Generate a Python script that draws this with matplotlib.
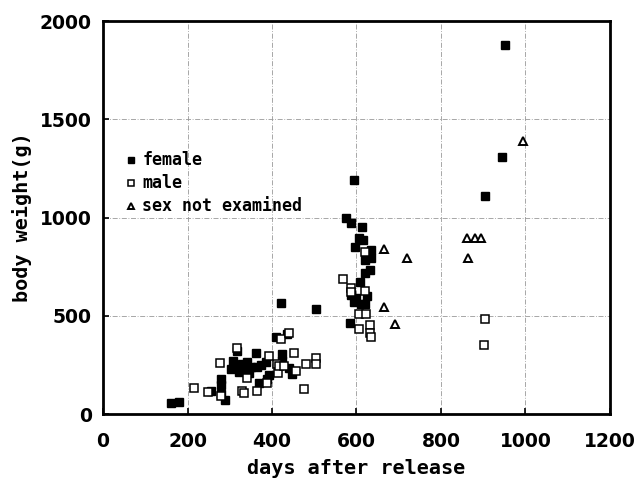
import matplotlib
matplotlib.use("Agg")
import matplotlib.pyplot as plt

# ── Data (days after release, body weight in g) ─────────────────────────────
female_days = [162, 181, 256, 280, 280, 280, 289,
               303, 308, 315, 318, 322, 328, 335, 340, 345, 350, 362, 365,
               369, 375, 385, 388, 393, 410, 421, 424, 424, 436, 440, 447,
               503,
               574, 584, 588, 588, 593, 593, 597, 600, 605, 609, 610, 612,
               616, 621, 621, 621, 625, 633, 635, 635,
               903, 944, 951]
female_wt = [58, 62, 118, 100, 150, 180, 72,
             230, 270, 240, 320, 215, 255, 225, 265, 210, 240, 312, 240,
             158, 250, 265, 179, 200, 390, 565, 307, 271, 405, 235, 205,
             532,
             997, 465, 972, 604, 1190, 568, 849, 590, 895, 670, 560, 951,
             885, 783, 716, 558, 600, 731, 834, 793,
             1110, 1310, 1880]

male_days = [216, 249, 278, 280, 318, 329, 334, 341, 365, 388, 393,
             412, 414, 416, 421, 428, 440, 452, 456, 475, 480, 503, 503,
             569, 588, 588, 605, 605, 621, 621, 623, 633, 633, 635,
             901, 903]
male_wt = [133, 113, 261, 92, 338, 118, 107, 184, 118, 158, 297,
           256, 210, 245, 384, 246, 410, 312, 220, 125, 256, 287, 256,
           685, 639, 619, 511, 435, 624, 824, 511, 455, 414, 394,
           353, 486]

unknown_days = [666, 666, 692, 720, 861, 863, 880, 894, 995]
unknown_wt = [839, 547, 460, 793, 895, 793, 895, 895, 1390]

x_ticks = [0, 200, 400, 600, 800, 1000, 1200]
y_ticks = [0, 500, 1000, 1500, 2000]

label_font = "DejaVu Sans Mono"
tick_font = "DejaVu Sans"

fig = plt.figure(figsize=(6.41, 4.84), dpi=100)
ax = fig.add_axes([0.1607, 0.1446, 0.7909, 0.812])

ax.plot(female_days, female_wt, "s", color="black", markersize=5.5,
        linestyle="none", label="female")
ax.plot(male_days, male_wt, "s", markerfacecolor="white",
        markeredgecolor="black", markeredgewidth=1.1, markersize=5.5,
        linestyle="none", label="male")
ax.plot(unknown_days, unknown_wt, "^", markerfacecolor="white",
        markeredgecolor="black", markeredgewidth=1.4, markersize=5.5,
        linestyle="none", label="sex not examined")

ax.set_xlim(0, 1200)
ax.set_ylim(0, 2000)
ax.set_xticks(x_ticks)
ax.set_yticks(y_ticks)
ax.set_xticklabels([str(t) for t in x_ticks], fontfamily=tick_font,
                   fontweight="bold", fontsize=13.5)
ax.set_yticklabels([str(t) for t in y_ticks], fontfamily=tick_font,
                   fontweight="bold", fontsize=13.5)
ax.tick_params(direction="in", length=4, width=1.2, pad=8)
ax.tick_params(axis="x", pad=13)

ax.grid(True, color="#999999", linestyle=(0, (6, 2, 1, 2)), linewidth=0.6)
ax.set_axisbelow(True)
for sp in ax.spines.values():
    sp.set_linewidth(2)

ax.set_xlabel("days after release", fontfamily=label_font,
              fontweight="bold", fontsize=14.5, labelpad=6)
ax.set_ylabel("body weight(g)", fontfamily=label_font,
              fontweight="bold", fontsize=14.5, labelpad=6)

leg = ax.legend(loc="upper left", bbox_to_anchor=(0.035, 0.685), frameon=False,
                handlelength=0.45, handletextpad=0.45, labelspacing=0.3,
                borderaxespad=0, markerscale=0.8,
                prop={"family": label_font, "weight": "bold", "size": 12})

fig.savefig("out.png", dpi=100)
